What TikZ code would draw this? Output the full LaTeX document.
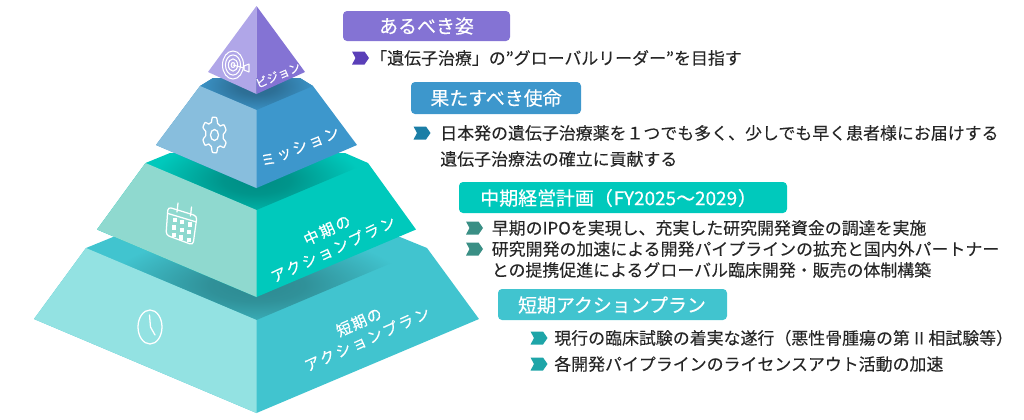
\documentclass[tikz,border=0pt]{standalone}
\usepackage{fontspec}
\setmainfont{Noto Sans CJK JP}
\usetikzlibrary{calc}
\definecolor{vL}{HTML}{B0A6E8}\definecolor{vR}{HTML}{8473D4}
\definecolor{mL}{HTML}{88BEDD}\definecolor{mR}{HTML}{3D97CC}
\definecolor{pL}{HTML}{8FD9CF}\definecolor{pR}{HTML}{00C9BC}
\definecolor{sL}{HTML}{93E2E2}\definecolor{sR}{HTML}{41C4CF}
\definecolor{ink}{HTML}{262626}
\definecolor{bV}{HTML}{5A3FB8}\definecolor{bM}{HTML}{1B7EA6}
\definecolor{bP}{HTML}{3A8F85}\definecolor{bS}{HTML}{1EA5A8}
\pgfdeclareradialshading{softS}{\pgfpointorigin}{color(0bp)=(sR!70!black); color(8bp)=(sR!74!black); color(25bp)=(sR); color(50bp)=(sR)}
\pgfdeclareradialshading{softP}{\pgfpointorigin}{color(0bp)=(pR!70!black); color(8bp)=(pR!74!black); color(25bp)=(pR); color(50bp)=(pR)}
\pgfdeclareradialshading{softM}{\pgfpointorigin}{color(0bp)=(mR!70!black); color(8bp)=(mR!74!black); color(25bp)=(mR); color(50bp)=(mR)}
\tikzset{
 x=0.75pt,y=-0.75pt,
 icon/.style={draw=white,line width=0.95pt,line join=round,line cap=round},
 thin icon/.style={icon,line width=.8pt},
 titlebox/.style={rounded corners=3pt,draw=none},
 titletext/.style={text=white,font=\fontsize{14.2pt}{16pt}\selectfont\addfontfeature{FakeBold=0.35},inner sep=0pt},
 body/.style={anchor=west,text=ink,font=\fontsize{12.7pt}{15pt}\selectfont\addfontfeature{FakeBold=0.1},inner sep=0pt},
 lab/.style={text=white,inner sep=0pt,align=center},
 chev/.pic={\fill[pic actions] (-8.5,-6.5)--(4,-6.5)--(8.5,0)--(4,6.5)--(-8.5,6.5)--(-5,0)--cycle;}
}
\begin{document}
\begin{tikzpicture}
\useasboundingbox (0,0) rectangle (1024,419);
% bottom tier
\fill[sR] (86,248)--(113,237)--(400,237)--(427,248)--(479,319)--(256.5,413)--(34,319)--cycle;
\begin{scope}
\clip (86,248)--(113,237)--(400,237)--(427,248)--(256.5,320)--cycle;
\shade[shading=softS] (256.5,285) ellipse (150 and 52);
\end{scope}
\fill[sL] (86,248)--(256.5,320)--(256.5,413)--(34,319)--cycle;
% middle tier
\fill[pR] (145.5,163)--(170,153)--(345,153)--(368,163)--(416,229.5)--(256.5,297)--(97,229.5)--cycle;
\begin{scope}
\clip (145.5,163)--(170,153)--(345,153)--(368,163)--(256.5,210)--cycle;
\shade[shading=softP] (256.5,180) ellipse (105 and 44);
\end{scope}
\fill[pL] (145.5,163)--(256.5,210)--(256.5,297)--(97,229.5)--cycle;
% mission tier
\fill[mR] (200,86)--(213,78)--(300,78)--(313,86)--(357,145)--(256.5,188)--(156,145)--cycle;
\begin{scope}
\clip (200,86)--(213,78)--(300,78)--(313,86)--(256.5,110)--cycle;
\shade[shading=softM] (256.5,86) ellipse (62 and 28);
\end{scope}
\fill[mL] (200,86)--(256.5,110)--(256.5,188)--(156,145)--cycle;
% tip
\fill[vL] (256.5,6)--(256.5,94)--(208,72)--cycle;
\fill[vR] (256.5,6)--(305,72)--(256.5,94)--cycle;
% icons: target
\foreach \r in {1,.72,.44,.18}
  \draw[thin icon] (233,65) ellipse ({10.5*\r} and {14*\r});
\draw[thin icon] (233,65)--(244,68);
\draw[thin icon] (244,66)--(249,64)--(249,72)--(244,70)--cycle;
% gear
\draw[icon] plot[samples=121,domain=0:360,variable=\t]
  ({214.5+12.3*(.86+.14*max(-1,min(1,-2*cos(6*\t))))*cos(\t)},{135+17.8*(.86+.14*max(-1,min(1,-2*cos(6*\t))))*sin(\t)+1.5*cos(\t)});
\draw[icon] (214.5,135) ellipse (4 and 5.5);
% calendar
\draw[icon,rounded corners=2.5pt] (168,207)--(197,216)--(193,245)--(166,235)--cycle;
\draw[icon] (168,213.5)--(196.5,222);
\draw[icon] (178,203)--(177,212);
\draw[icon] (191.5,207)--(190.5,216);
\foreach \a in {0,1,2}\foreach \b in {0,1,2}
  \fill[white] ({172.5+\a*7.6+\b*-0.5},{217.5+\a*2.4+\b*7.6}) rectangle +(4.2,4.4);
% clock
\draw[icon] (150,327) ellipse (12 and 17);
\draw[icon] (149.5,315)--(150.5,327)--(155,335);
% rotated labels
\node[lab,rotate=23,font=\fontsize{8.8pt}{10pt}\selectfont\addfontfeature{LetterSpace=1,FakeBold=0.3}] (l1) at (278,75) {ビジョン};
\node[lab,rotate=22,font=\fontsize{11.4pt}{12pt}\selectfont\addfontfeature{LetterSpace=12,FakeBold=0.4}] (l2) at (300,147) {ミッション};
\node[lab,rotate=25,font=\fontsize{11.4pt}{12pt}\selectfont\addfontfeature{LetterSpace=14,FakeBold=0.3}] (l3a) at (327,230) {中期の};
\node[lab,rotate=25,font=\fontsize{11.4pt}{12pt}\selectfont\addfontfeature{LetterSpace=14,FakeBold=0.3}] (l3b) at (333,249) {アクションプラン};
\node[lab,rotate=24,font=\fontsize{11.4pt}{12pt}\selectfont\addfontfeature{LetterSpace=8,FakeBold=0.3}] (l4a) at (359,322) {短期の};
\node[lab,rotate=24,font=\fontsize{11.4pt}{12pt}\selectfont\addfontfeature{LetterSpace=14,FakeBold=0.3}] (l4b) at (367,339) {アクションプラン};
% titles
\fill[vR,titlebox] (343,11) rectangle (510,41);
\node[titletext] (t1) at (426.5,26) {あるべき姿};
\fill[mR,titlebox] (411,82) rectangle (581,114);
\node[titletext] (t2) at (496,98) {果たすべき使命};
\fill[pR,titlebox] (459,182) rectangle (787,213);
\node[titletext,anchor=west] (t3) at (480,198) {中期経営計画（\kern.6ptFY2025～2029\kern.6pt）};
\fill[sR,titlebox] (498,289) rectangle (727,320);
\node[titletext] (t4) at (612,305) {短期アクションプラン};
% bullets and text
\pic[fill=bV] at (360.5,58) {chev};
\node[body] (a1) at (370,58) {「遺伝子治療」の”グローバルリーダー”を目指す};
\pic[fill=bM] at (422,133) {chev};
\node[body] (b1) at (440,133) {日本発の遺伝子治療薬を１つでも多く、少しでも早く患者様にお届けする};
\node[body] (b2) at (440,159) {遺伝子治療法の確立に貢献する};
\pic[fill=bP] at (474.5,228) {chev};
\pic[fill=bP] at (474.5,249) {chev};
\node[body] (c1) at (491.5,228) {早期のIPOを実現し、充実した研究開発資金の調達を実施};
\node[body] (c2) at (491.5,249) {研究開発の加速による開発パイプラインの拡充と国内外パートナー};
\node[body] (c3) at (491.5,270) {との提携促進によるグローバル臨床開発・販売の体制構築};
\pic[fill=bS] at (539,338) {chev};
\pic[fill=bS] at (539,364) {chev};
\node[body] (d1) at (554,338) {現行の臨床試験の着実な遂行（悪性骨腫瘍の第\kern.6ptⅡ\kern.6pt相試験等）};
\node[body] (d2) at (554,364) {各開発パイプラインのライセンスアウト活動の加速};
\end{tikzpicture}
\end{document}
